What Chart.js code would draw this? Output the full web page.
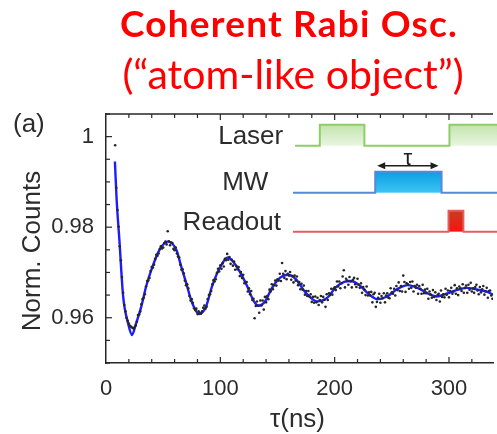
<!DOCTYPE html>
<html>
<head>
<meta charset="utf-8">
<script src="https://cdn.jsdelivr.net/npm/chart.js@4.4.1/dist/chart.umd.min.js"></script>
<style>
  html, body { margin: 0; padding: 0; background: #ffffff; overflow: hidden; }
  #wrap { width: 497px; height: 434px; position: relative; }
</style>
</head>
<body>
<div id="wrap"><canvas id="c" width="497" height="434"></canvas></div>
<script>
// Measured delay times (ns), one sample per nanosecond
const delayNs = [
  8, 9, 10, 11, 12, 13, 14, 15, 16, 17, 18, 19,
  20, 21, 22, 23, 24, 25, 26, 27, 28, 29, 30, 31, 32, 33, 34, 35, 36, 37, 38, 39,
  40, 41, 42, 43, 44, 45, 46, 47, 48, 49, 50, 51, 52, 53, 54, 55, 56, 57, 58, 59,
  60, 61, 62, 63, 64, 65, 66, 67, 68, 69, 70, 71, 72, 73, 74, 75, 76, 77, 78, 79,
  80, 81, 82, 83, 84, 85, 86, 87, 88, 89, 90, 91, 92, 93, 94, 95, 96, 97, 98, 99,
  100, 101, 102, 103, 104, 105, 106, 107, 108, 109, 110, 111, 112, 113, 114, 115, 116, 117, 118, 119,
  120, 121, 122, 123, 124, 125, 126, 127, 128, 129, 130, 131, 132, 133, 134, 135, 136, 137, 138, 139,
  140, 141, 142, 143, 144, 145, 146, 147, 148, 149, 150, 151, 152, 153, 154, 155, 156, 157, 158, 159,
  160, 161, 162, 163, 164, 165, 166, 167, 168, 169, 170, 171, 172, 173, 174, 175, 176, 177, 178, 179,
  180, 181, 182, 183, 184, 185, 186, 187, 188, 189, 190, 191, 192, 193, 194, 195, 196, 197, 198, 199,
  200, 201, 202, 203, 204, 205, 206, 207, 208, 209, 210, 211, 212, 213, 214, 215, 216, 217, 218, 219,
  220, 221, 222, 223, 224, 225, 226, 227, 228, 229, 230, 231, 232, 233, 234, 235, 236, 237, 238, 239,
  240, 241, 242, 243, 244, 245, 246, 247, 248, 249, 250, 251, 252, 253, 254, 255, 256, 257, 258, 259,
  260, 261, 262, 263, 264, 265, 266, 267, 268, 269, 270, 271, 272, 273, 274, 275, 276, 277, 278, 279,
  280, 281, 282, 283, 284, 285, 286, 287, 288, 289, 290, 291, 292, 293, 294, 295, 296, 297, 298, 299,
  300, 301, 302, 303, 304, 305, 306, 307, 308, 309, 310, 311, 312, 313, 314, 315, 316, 317, 318, 319,
  320, 321, 322, 323, 324, 325, 326, 327, 328, 329, 330, 331, 332, 333, 334, 335, 336, 337, 338
];
// Normalised fluorescence counts at each delay
const counts = [
  0.9981, 0.9887, 0.9838, 0.9801, 0.9758, 0.9727, 0.9690, 0.9655, 0.9628, 0.9614, 0.9600, 0.9593,
  0.9587, 0.9582, 0.9580, 0.9578, 0.9576, 0.9579, 0.9583, 0.9591, 0.9606, 0.9607, 0.9614, 0.9630, 0.9641, 0.9644, 0.9652, 0.9669, 0.9681, 0.9682, 0.9688, 0.9703,
  0.9712, 0.9711, 0.9717, 0.9730, 0.9739, 0.9737, 0.9742, 0.9752, 0.9758, 0.9753, 0.9755, 0.9765, 0.9768, 0.9762, 0.9791, 0.9769, 0.9760, 0.9766, 0.9765, 0.9752,
  0.9749, 0.9755, 0.9742, 0.9735, 0.9733, 0.9717, 0.9706, 0.9707, 0.9698, 0.9682, 0.9672, 0.9674, 0.9665, 0.9648, 0.9638, 0.9641, 0.9633, 0.9621, 0.9617, 0.9620,
  0.9608, 0.9614, 0.9611, 0.9609, 0.9614, 0.9622, 0.9627, 0.9620, 0.9624, 0.9641, 0.9650, 0.9652, 0.9659, 0.9674, 0.9683, 0.9680, 0.9685, 0.9699, 0.9708, 0.9702,
  0.9716, 0.9708, 0.9720, 0.9713, 0.9730, 0.9727, 0.9741, 0.9728, 0.9734, 0.9719, 0.9728, 0.9715, 0.9724, 0.9706, 0.9714, 0.9707, 0.9712, 0.9692, 0.9701, 0.9688,
  0.9695, 0.9676, 0.9679, 0.9679, 0.9658, 0.9665, 0.9652, 0.9659, 0.9639, 0.9642, 0.9599, 0.9626, 0.9636, 0.9627, 0.9611, 0.9638, 0.9627, 0.9638, 0.9618, 0.9646,
  0.9634, 0.9648, 0.9641, 0.9662, 0.9658, 0.9674, 0.9663, 0.9672, 0.9682, 0.9671, 0.9685, 0.9682, 0.9697, 0.9681, 0.9721, 0.9697, 0.9688, 0.9703, 0.9685, 0.9697,
  0.9693, 0.9701, 0.9684, 0.9692, 0.9678, 0.9693, 0.9682, 0.9691, 0.9672, 0.9679, 0.9663, 0.9675, 0.9662, 0.9671, 0.9651, 0.9659, 0.9648, 0.9659, 0.9647, 0.9652,
  0.9635, 0.9646, 0.9633, 0.9647, 0.9634, 0.9644, 0.9628, 0.9639, 0.9648, 0.9634, 0.9646, 0.9639, 0.9624, 0.9652, 0.9639, 0.9654, 0.9650, 0.9664, 0.9651, 0.9664,
  0.9667, 0.9661, 0.9680, 0.9669, 0.9680, 0.9665, 0.9676, 0.9691, 0.9705, 0.9667, 0.9686, 0.9682, 0.9673, 0.9690, 0.9680, 0.9667, 0.9684, 0.9688, 0.9674, 0.9668,
  0.9686, 0.9673, 0.9666, 0.9676, 0.9655, 0.9668, 0.9662, 0.9650, 0.9669, 0.9649, 0.9656, 0.9649, 0.9657, 0.9634, 0.9652, 0.9655, 0.9624, 0.9635, 0.9644, 0.9653,
  0.9633, 0.9648, 0.9643, 0.9654, 0.9634, 0.9649, 0.9654, 0.9644, 0.9643, 0.9665, 0.9656, 0.9653, 0.9664, 0.9649, 0.9670, 0.9661, 0.9678, 0.9659, 0.9670, 0.9658,
  0.9693, 0.9679, 0.9657, 0.9676, 0.9674, 0.9664, 0.9679, 0.9666, 0.9680, 0.9658, 0.9670, 0.9666, 0.9673, 0.9653, 0.9670, 0.9664, 0.9653, 0.9673, 0.9654, 0.9662,
  0.9654, 0.9664, 0.9642, 0.9658, 0.9651, 0.9644, 0.9661, 0.9646, 0.9656, 0.9639, 0.9650, 0.9653, 0.9636, 0.9660, 0.9646, 0.9652, 0.9645, 0.9664, 0.9651, 0.9660,
  0.9645, 0.9659, 0.9666, 0.9653, 0.9658, 0.9672, 0.9653, 0.9665, 0.9650, 0.9669, 0.9665, 0.9659, 0.9674, 0.9655, 0.9666, 0.9671, 0.9655, 0.9673, 0.9662, 0.9677,
  0.9658, 0.9665, 0.9655, 0.9668, 0.9673, 0.9660, 0.9652, 0.9668, 0.9656, 0.9663, 0.9670, 0.9651, 0.9658, 0.9666, 0.9644, 0.9659, 0.9660, 0.9649, 0.9642
];

// Damped-oscillation fit through the data
const fitNs = [
  7.8, 9.3, 11.7, 15.0, 19.3, 22.8, 26.0, 30.9, 35.2, 41.0, 46.8, 53.9, 61.5, 65.8, 70.1,
  75.3, 81.5, 87.4, 92.6, 98.7, 106.5, 116.0, 123.2, 129.0, 133.3, 139.1, 144.8, 152.1, 158.9,
  165.8, 173.8, 184.5, 193.9, 200.9, 208.4, 214.1, 221.6, 228.6, 237.2, 245.9, 254.5, 264.1,
  273.3, 282.0, 289.2, 297.8, 306.5, 315.2, 325.3, 332.5, 338.5
];
const fitCounts = [
  0.9945, 0.9861, 0.9772, 0.9647, 0.9588, 0.9562, 0.9585, 0.9625, 0.9670, 0.9715, 0.9750,
  0.9768, 0.9750, 0.9713, 0.9677, 0.9633, 0.9608, 0.9624, 0.9668, 0.9706, 0.9733, 0.9706,
  0.9671, 0.9638, 0.96265, 0.9636, 0.9664, 0.9688, 0.9695, 0.9686, 0.9658, 0.9636, 0.9645,
  0.9667, 0.9679, 0.9681, 0.9672, 0.9655, 0.9641, 0.9647, 0.9663, 0.9672, 0.9665, 0.9653,
  0.9647, 0.9653, 0.9661, 0.9666, 0.9662, 0.9658, 0.9651
];

// Labelled ticks
const xTickLabels = [0, 100, 200, 300];
const yTickLabels = [0.96, 0.98, 1];

const AXIS = '#262626';
const TEXT = '#2c2c2c';
const FONT = "'Liberation Sans', Arial, Helvetica, sans-serif";
const RED = '#ff0000';

// Pulse-sequence schematic, placed in axis units
const sequenceRows = [
  { label: 'Laser', labelNs: 155, labelAt: 1.0, from: 165.4, base: 0.9980, high: 1.00265,
    pulses: [[187.0, 226.0], [300.4, 420]], line: '#8fcd69', fillTop: '#c3e5ad', fillBottom: '#e8f5df' },
  { label: 'MW', labelNs: 142, labelAt: 0.98983, from: 163.6, base: 0.98762, high: 0.99227,
    pulses: [[235.5, 293.5]], line: '#5689d8', fillTop: '#0a9fe4', fillBottom: '#3ec4f4' },
  { label: 'Readout', labelNs: 153, labelAt: 0.98099, from: 163.6, base: 0.97901, high: 0.98365,
    pulses: [[299.6, 312.6]], line: '#e25f5f', fillTop: '#c4401c', fillBottom: '#ff1010' }
];
const delayArrow = { fromNs: 237.2, toNs: 290.9, at: 0.99359, label: 'τ' };

const isLabelled = (v, list) => list.some(l => Math.abs(l - v) < 1e-6);

const whiteBg = {
  id: 'whiteBg',
  beforeDraw(chart) {
    const ctx = chart.ctx;
    ctx.save();
    ctx.fillStyle = '#ffffff';
    ctx.fillRect(0, 0, chart.width, chart.height);
    ctx.restore();
  }
};

const decorations = {
  id: 'decorations',
  afterDraw(chart) {
    const { ctx, chartArea: a, scales: { x, y } } = chart;
    const seg = (x1, y1, x2, y2) => { ctx.beginPath(); ctx.moveTo(x1, y1); ctx.lineTo(x2, y2); ctx.stroke(); };
    ctx.save();

    // top frame line
    ctx.strokeStyle = AXIS;
    ctx.lineWidth = 1.5;
    seg(a.left - 0.75, a.top, a.right, a.top);

    // inward tick marks on bottom/top and left
    ctx.lineWidth = 1.2;
    x.ticks.forEach(t => {
      const px = x.getPixelForValue(t.value);
      const len = isLabelled(t.value, xTickLabels) ? 6 : 4;
      if (t.value > 0.01) {
        seg(px, a.bottom, px, a.bottom - len);
        seg(px, a.top, px, a.top + len);
      }
    });
    y.ticks.forEach(t => {
      const py = y.getPixelForValue(t.value);
      const len = isLabelled(t.value, yTickLabels) ? 6 : 4;
      seg(a.left, py, a.left + len, py);
    });

    // pulse sequence schematic
    sequenceRows.forEach(r => {
      const yb = y.getPixelForValue(r.base);
      const yh = y.getPixelForValue(r.high);
      r.pulses.forEach(([p0, p1]) => {
        const x0 = x.getPixelForValue(p0), x1 = x.getPixelForValue(p1);
        const g = ctx.createLinearGradient(0, yh, 0, yb);
        g.addColorStop(0, r.fillTop);
        g.addColorStop(1, r.fillBottom);
        ctx.fillStyle = g;
        ctx.fillRect(x0, yh, x1 - x0, yb - yh);
      });
      ctx.strokeStyle = r.line;
      ctx.lineWidth = 2;
      ctx.lineJoin = 'miter';
      ctx.beginPath();
      ctx.moveTo(x.getPixelForValue(r.from), yb);
      r.pulses.forEach(([p0, p1]) => {
        const x0 = x.getPixelForValue(p0), x1 = x.getPixelForValue(p1);
        ctx.lineTo(x0, yb); ctx.lineTo(x0, yh); ctx.lineTo(x1, yh); ctx.lineTo(x1, yb);
      });
      ctx.lineTo(x.getPixelForValue(420), yb);
      ctx.stroke();

      ctx.fillStyle = TEXT;
      ctx.font = '26px ' + FONT;
      ctx.textAlign = 'right';
      ctx.textBaseline = 'middle';
      ctx.fillText(r.label, x.getPixelForValue(r.labelNs), y.getPixelForValue(r.labelAt));
    });

    // delay arrow with its label
    const ay = y.getPixelForValue(delayArrow.at);
    const ax0 = x.getPixelForValue(delayArrow.fromNs), ax1 = x.getPixelForValue(delayArrow.toNs);
    ctx.strokeStyle = '#1e1e1e';
    ctx.fillStyle = '#1e1e1e';
    ctx.lineWidth = 1.5;
    seg(ax0 + 4, ay, ax1 - 4, ay);
    ctx.beginPath(); ctx.moveTo(ax0, ay); ctx.lineTo(ax0 + 8, ay - 3.5); ctx.lineTo(ax0 + 8, ay + 3.5); ctx.closePath(); ctx.fill();
    ctx.beginPath(); ctx.moveTo(ax1, ay); ctx.lineTo(ax1 - 8, ay - 3.5); ctx.lineTo(ax1 - 8, ay + 3.5); ctx.closePath(); ctx.fill();
    ctx.font = '22px ' + FONT;
    ctx.textAlign = 'center';
    ctx.textBaseline = 'alphabetic';
    ctx.fillText(delayArrow.label, (ax0 + ax1) / 2, ay - 1);

    // axis titles and panel letter
    ctx.fillStyle = TEXT;
    ctx.font = '26px ' + FONT;
    ctx.textAlign = 'center';
    ctx.textBaseline = 'middle';
    ctx.fillText('τ(ns)', (a.left + a.right) / 2 - 2, 420);
    ctx.save();
    ctx.translate(33, 251);
    ctx.rotate(-Math.PI / 2);
    ctx.fillText('Norm. Counts', 0, 0);
    ctx.restore();
    ctx.textAlign = 'left';
    ctx.fillText('(a)', 13, 125);

    // headline
    ctx.fillStyle = RED;
    ctx.textAlign = 'center';
    ctx.textBaseline = 'alphabetic';
    ctx.letterSpacing = '1.2px';
    ctx.font = "bold 37px Lato, 'Open Sans', sans-serif";
    ctx.fillText('Coherent Rabi Osc.', 289, 37);
    ctx.letterSpacing = '0px';
    ctx.font = "41px Lato, 'Open Sans', sans-serif";
    ctx.fillText('(“atom-like object”)', 293, 89);

    ctx.restore();
  }
};

new Chart(document.getElementById('c'), {
  type: 'scatter',
  data: {
    datasets: [
      {
        label: 'Fit',
        data: fitNs.map((t, i) => ({ x: t, y: fitCounts[i] })),
        showLine: true,
        borderColor: '#1c1cff',
        borderWidth: 2.4,
        pointRadius: 0,
        cubicInterpolationMode: 'monotone',
        order: 2
      },
      {
        label: 'Data',
        data: delayNs.map((t, i) => ({ x: t, y: counts[i] })),
        showLine: false,
        pointRadius: 1.3,
        pointBorderWidth: 0,
        backgroundColor: '#262626',
        order: 1
      }
    ]
  },
  options: {
    responsive: false,
    devicePixelRatio: 1,
    animation: false,
    events: [],
    layout: { padding: { top: 114, left: 0, right: 0, bottom: 0 } },
    plugins: { legend: { display: false }, tooltip: { enabled: false }, title: { display: false } },
    scales: {
      x: {
        type: 'linear',
        min: 0,
        max: 338.5,
        grid: { display: false, drawTicks: false, tickLength: 0 },
        border: { display: true, color: AXIS, width: 1.5 },
        ticks: {
          stepSize: 20,
          includeBounds: false,
          autoSkip: false,
          maxRotation: 0,
          padding: 13,
          color: TEXT,
          font: { family: FONT, size: 22 },
          callback: v => (isLabelled(v, xTickLabels) ? String(v) : '')
        },
        afterFit: s => { s.height = 71; }
      },
      y: {
        type: 'linear',
        min: 0.95,
        max: 1.005,
        grid: { display: false, drawTicks: false, tickLength: 0 },
        border: { display: true, color: AXIS, width: 1.5 },
        ticks: {
          stepSize: 0.005,
          includeBounds: false,
          autoSkip: false,
          padding: 12,
          color: TEXT,
          font: { family: FONT, size: 22 },
          callback: v => (isLabelled(v, yTickLabels) ? String(Math.round(v * 100) / 100) : '')
        },
        afterFit: s => { s.width = 106; }
      }
    }
  },
  plugins: [whiteBg, decorations]
});
</script>
</body>
</html>
